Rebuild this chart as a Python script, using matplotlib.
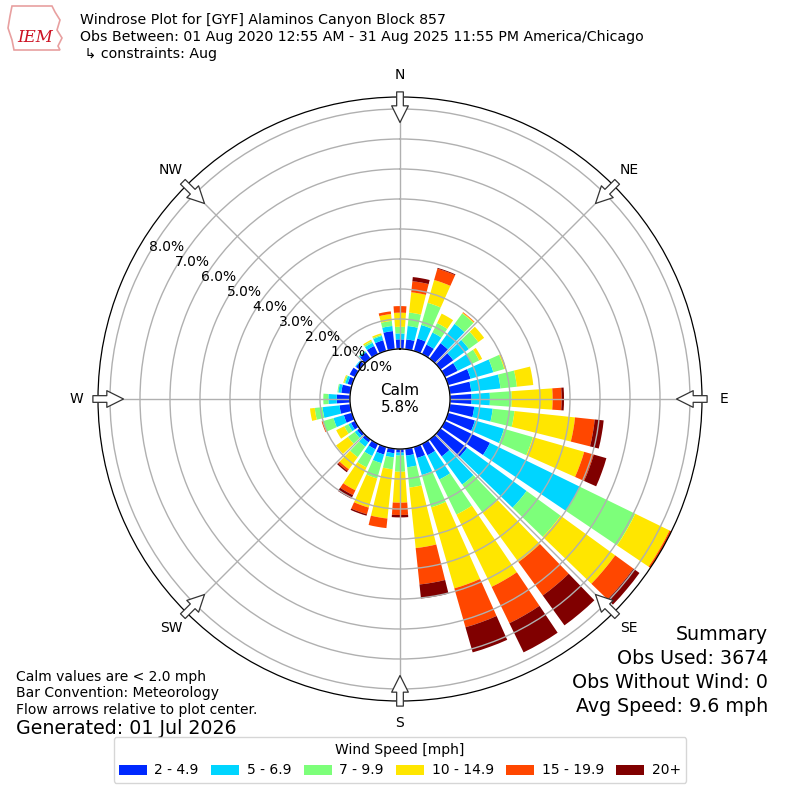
import numpy as np
import matplotlib
matplotlib.use("Agg")
import matplotlib.pyplot as plt
from matplotlib.patches import Polygon

# ---------------- data ----------------
directions = np.arange(0, 360, 10)  # degrees, direction wind is from
speed_labels = ["2 - 4.9", "5 - 6.9", "7 - 9.9", "10 - 14.9", "15 - 19.9", "20+"]

# percent of observations per direction for each speed bin
pct_2_5 = [0.32, 0.33, 0.43, 0.35, 0.63, 0.53, 0.47, 0.78, 0.72, 0.72, 0.82, 0.93,
           1.67, 1.10, 0.70, 0.42, 0.38, 0.23, 0.12, 0.15, 0.26, 0.20, 0.12, 0.10,
           0.15, 0.28, 0.36, 0.44, 0.30, 0.15, 0.20, 0.15, 0.25, 0.30, 0.37, 0.61]
pct_5_7 = [0.20, 0.45, 0.47, 0.45, 0.80, 0.64, 0.53, 0.79, 0.98, 0.61, 0.62, 1.01,
           3.33, 2.45, 1.16, 0.90, 0.59, 0.39, 0.10, 0.14, 0.30, 0.25, 0.18, 0.10,
           0.10, 0.36, 0.57, 0.28, 0.10, 0.08, 0.00, 0.03, 0.05, 0.12, 0.15, 0.17]
pct_7_10 = [0.22, 0.45, 0.77, 0.35, 0.43, 0.39, 0.27, 0.38, 0.55, 0.73, 0.73, 1.00,
            2.06, 1.40, 1.16, 1.30, 1.12, 0.68, 0.54, 0.40, 0.53, 0.42, 0.43, 0.28,
            0.15, 0.36, 0.26, 0.17, 0.03, 0.04, 0.00, 0.00, 0.02, 0.06, 0.04, 0.17]
pct_10_15 = [0.47, 0.68, 0.79, 0.35, 0.03, 0.24, 0.11, 0.04, 0.55, 1.36, 2.03, 1.78,
             1.27, 2.25, 2.03, 2.68, 2.81, 2.03, 1.03, 1.65, 1.01, 0.85, 0.50, 0.49,
             0.30, 0.02, 0.16, 0.00, 0.00, 0.03, 0.00, 0.00, 0.00, 0.05, 0.05, 0.23]
pct_15_20 = [0.22, 0.37, 0.39, 0.00, 0.02, 0.00, 0.00, 0.02, 0.00, 0.30, 0.66, 0.33,
             0.27, 0.75, 1.38, 1.35, 1.35, 1.22, 0.41, 0.32, 0.23, 0.18, 0.07, 0.00,
             0.00, 0.03, 0.00, 0.00, 0.00, 0.00, 0.00, 0.00, 0.00, 0.00, 0.00, 0.09]
pct_20p = [0.00, 0.14, 0.03, 0.00, 0.00, 0.00, 0.00, 0.00, 0.00, 0.08, 0.30, 0.44,
           0.10, 0.25, 1.23, 1.08, 0.87, 0.47, 0.08, 0.00, 0.05, 0.13, 0.05, 0.00,
           0.00, 0.00, 0.00, 0.00, 0.00, 0.00, 0.00, 0.00, 0.00, 0.00, 0.00, 0.00]

ring_values = [0, 1, 2, 3, 4, 5, 6, 7, 8]
compass_labels = ["N", "NE", "E", "SE", "S", "SW", "W", "NW"]
compass_deg = [0, 45, 90, 135, 180, 225, 270, 315]
calm_pct = 5.8

title_lines = ["Windrose Plot for [GYF] Alaminos Canyon Block 857",
               "Obs Between: 01 Aug 2020 12:55 AM - 31 Aug 2025 11:55 PM America/Chicago",
               " \u21b3 constraints: Aug"]
left_notes = ["Calm values are < 2.0 mph", "Bar Convention: Meteorology",
              "Flow arrows relative to plot center."]
generated = "Generated: 01 Jul 2026"
summary_lines = ["Summary", "Obs Used: 3674", "Obs Without Wind: 0", "Avg Speed: 9.6 mph"]

# ---------------- figure ----------------
fig = plt.figure(figsize=(8, 8), dpi=100)
ax = fig.add_axes([0.1225, 0.12375, 0.755, 0.755], projection="polar")
ax.set_theta_zero_location("N")
ax.set_theta_direction(-1)

rmax = 8.4
ax.set_ylim(0, rmax)
ax.set_rorigin(-1.667)

series = [pct_2_5, pct_5_7, pct_7_10, pct_10_15, pct_15_20, pct_20p]
colors = plt.cm.jet(np.arange(1, 7) / 6.0)
theta = np.deg2rad(directions)
width = np.deg2rad(8.0)
bottom = np.zeros(len(directions))
for vals, col, lab in zip(series, colors, speed_labels):
    vals = np.asarray(vals)
    ax.bar(theta, vals, width=width, bottom=bottom, color=col, label=lab,
           align="center", linewidth=0)
    bottom = bottom + vals

# grid
ax.set_xticks(np.deg2rad(compass_deg))
ax.set_xticklabels([])
ax.set_yticks(ring_values)
ax.set_yticklabels([])
ax.grid(True, color="#b0b0b0", linewidth=1.0)
ax.tick_params(axis="both", length=0)
for sp in ax.spines.values():
    sp.set_color("black")
    sp.set_linewidth(0.9)

# ring labels
for r in ring_values:
    ax.text(np.deg2rad(300), r, f"{r:.1f}%", ha="left", va="bottom", fontsize=10)

# compass labels and arrows
for lab, d in zip(compass_labels, compass_deg):
    th = np.deg2rad(d)
    ax.text(th, 9.13, lab, ha="center", va="center", fontsize=10)
    ax.annotate("", xy=(th, 7.55), xytext=(th, 8.57),
                arrowprops=dict(arrowstyle="simple,head_length=0.6,head_width=0.6,tail_width=0.24",
                                fc="white", ec="#333333", lw=0.9, shrinkA=0, shrinkB=0,
                                mutation_scale=20),
                annotation_clip=False)

ax.text(0.5, 0.5, f"Calm\n{calm_pct:.1f}%", transform=ax.transAxes,
        ha="center", va="center", fontsize=11, linespacing=1.2)

# titles
for i, line in enumerate(title_lines):
    fig.text(0.1, 1 - (20 + 17 * i) / 800, line, ha="left", va="center", fontsize=10.2)

# simple logo stand-in (outline + text)
outline_px = [(12, 6), (52, 6), (55, 12), (60, 20), (57, 30), (62, 38), (58, 46),
              (60, 50), (14, 50), (12, 40), (8, 28), (10, 16)]
logo = Polygon([(x / 800, 1 - y / 800) for x, y in outline_px], closed=True,
               transform=fig.transFigure, fill=False, edgecolor="#e8a0a0", linewidth=1.2)
fig.patches.append(logo)
fig.text(35 / 800, 1 - 38 / 800, "IEM", ha="center", va="center", fontsize=12,
         color="#cc1122", style="italic", family="DejaVu Serif")

# left notes
for i, line in enumerate(left_notes):
    fig.text(16 / 800, 1 - (677 + 16.5 * i) / 800, line, ha="left", va="center", fontsize=10)
fig.text(16 / 800, 1 - 729 / 800, generated, ha="left", va="center", fontsize=13.7)

# summary
for yy, line in zip([635, 659, 682, 706], summary_lines):
    fig.text(768 / 800, 1 - yy / 800, line, ha="right", va="center", fontsize=13.7)

# legend
handles, labels = ax.get_legend_handles_labels()
fig.legend(handles, labels, loc="lower center", bbox_to_anchor=(0.5, 0.0125), ncol=6,
           title="Wind Speed [mph]", fontsize=10, title_fontsize=10, frameon=True,
           columnspacing=0.9, handletextpad=0.55, handlelength=2.0)

fig.savefig("out.png", dpi=100)
